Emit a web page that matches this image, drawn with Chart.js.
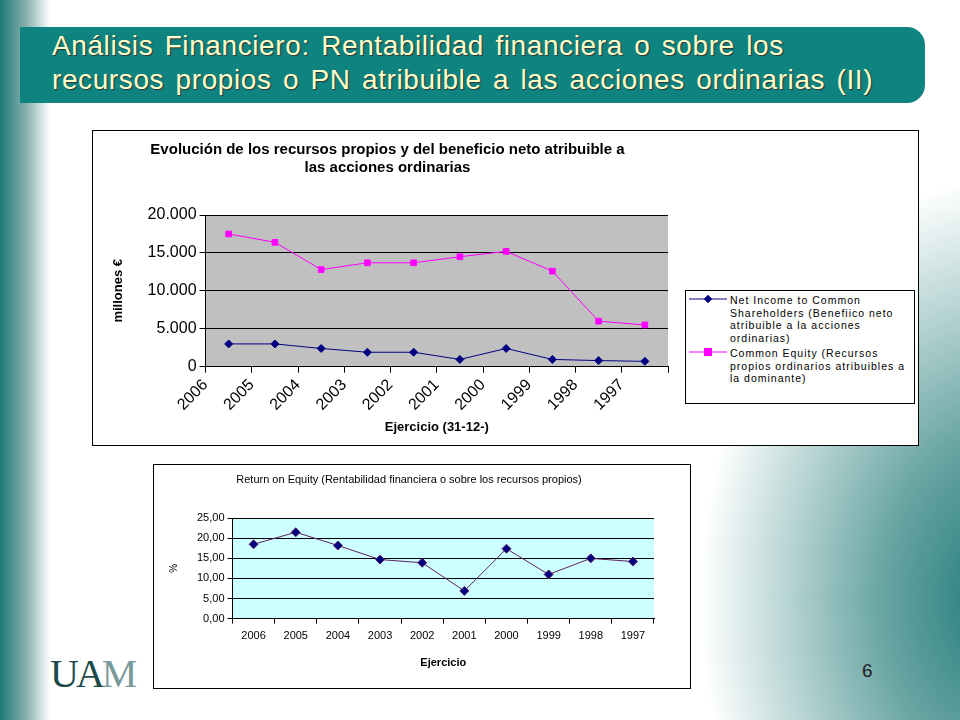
<!DOCTYPE html>
<html><head><meta charset="utf-8">
<script src="https://cdn.jsdelivr.net/npm/chart.js@4"></script>
<style>
body{margin:0;width:960px;height:720px;position:relative;overflow:hidden;font-family:"Liberation Sans",Arial,sans-serif;
background:linear-gradient(90deg,#1f7a78 0px,#8fb5b3 28px,#ffffff 50px,#ffffff 100%);}
#br{position:absolute;left:0;top:0;width:960px;height:720px;
background:radial-gradient(ellipse 300px 420px at 1000px 600px,#1f7a78 0%,#6aa6a4 40%,rgba(255,255,255,0) 100%);}
#bar{position:absolute;left:20px;top:27px;width:905px;height:76px;background:#0e8380;border-radius:0 18px 18px 0;}
#title{position:absolute;left:52px;top:29px;color:#ffffcc;font-size:28px;line-height:34px;letter-spacing:0.6px;word-spacing:3px;text-shadow:1px 1px 1px #333;}
.box{position:absolute;background:#fff;border:1px solid #000;}
#legend{position:absolute;left:685px;top:290px;width:228px;height:112px;border:1px solid #000;background:#fff;font-size:10.5px;letter-spacing:1px;}
.li{position:relative;padding-left:44px;line-height:12.5px;margin-top:3px}
.li svg{position:absolute;left:3px;top:1px}
#num{position:absolute;left:862px;top:660px;font-size:19px;color:#222}
#logo{position:absolute;left:50px;top:650px;font-size:40px;font-family:"Liberation Serif",serif;color:#1a4a48;letter-spacing:-3px}
</style></head><body>
<div id="br"></div>
<div id="bar"></div>
<div id="title">Análisis Financiero: Rentabilidad financiera o sobre los<br>recursos propios o PN atribuible a las acciones ordinarias (II)</div>
<div class="box" style="left:92px;top:130px;width:825px;height:314px"><canvas id="c1" width="825" height="314"></canvas></div>
<div id="legend"></div>
<div class="box" style="left:153px;top:464px;width:536px;height:223px"><canvas id="c2" width="536" height="223"></canvas></div>
<div id="logo">UA<span style="color:#7a9a98">M</span></div>
<div id="num">6</div>
<script>
const years=["2006","2005","2004","2003","2002","2001","2000","1999","1998","1997"];
const netIncome=[3000,3000,2400,1900,1900,950,2400,950,800,700];
const equity=[17500,16400,12800,13700,13700,14500,15200,12600,6000,5500];
const roe=[18.5,21.5,18.2,14.7,13.9,6.9,17.4,11.0,15.0,14.2];
const seriesNames=["Net Income to Common Shareholders (Benefiico neto atribuible a la acciones ordinarias)","Common Equity (Recursos propios ordinarios atribuibles a la dominante)"];
const seriesColors=["#000080","#ff00ff"];

const lg=document.getElementById('legend');
seriesNames.forEach((n,i)=>{
  const d=document.createElement('div');d.className='li';
  const mk=i===0?'<rect x="16" y="1" width="6" height="6" transform="rotate(45 19 4)" fill="'+seriesColors[i]+'"/>':'<rect x="15" y="0" width="8" height="8" fill="'+seriesColors[i]+'"/>';
  d.innerHTML='<svg width="40" height="9"><line x1="0" y1="4" x2="38" y2="4" stroke="'+seriesColors[i]+'"/>'+mk+'</svg>'+n;
  lg.appendChild(d);
});

const bgPlugin={id:'bg',beforeDraw(c,a,o){const ca=c.chartArea;c.ctx.save();c.ctx.fillStyle=o.color;c.ctx.fillRect(ca.left,ca.top,ca.right-ca.left,ca.bottom-ca.top);c.ctx.restore();}};
const spacing={id:'sp',beforeDraw(c,a,o){c.ctx.letterSpacing=o.px+'px';}};
const F="'Liberation Sans', Arial, sans-serif";

new Chart(document.getElementById('c1'),{type:'line',plugins:[bgPlugin,spacing],
data:{datasets:[
 {label:seriesNames[0],data:netIncome.map((v,i)=>({x:i+0.5,y:v})),borderColor:seriesColors[0],backgroundColor:seriesColors[0],pointStyle:'rectRot',pointRadius:4,borderWidth:1},
 {label:seriesNames[1],data:equity.map((v,i)=>({x:i+0.5,y:v})),borderColor:seriesColors[1],backgroundColor:seriesColors[1],pointStyle:'rect',pointRadius:4,borderWidth:1}]},
options:{responsive:false,animation:false,
 layout:{padding:{left:14,right:250,top:0,bottom:6}},
 plugins:{sp:{px:0},bg:{color:'#c0c0c0'},legend:{display:false},tooltip:{enabled:false},
  title:{display:true,text:["Evolución de los recursos propios y del beneficio neto atribuible a","las acciones ordinarias"],color:'#000',font:{family:F,size:15,weight:'bold'},padding:{top:10,bottom:38},lineHeight:1.3}},
 scales:{
  x:{type:'linear',min:0,max:10,ticks:{stepSize:1,autoSkip:false,minRotation:45,maxRotation:45,color:'#000',font:{family:F,size:16},callback:v=>years[v]??''},
     grid:{drawOnChartArea:false,color:'#000',tickLength:6},border:{color:'#000'},
     title:{display:true,text:'Ejercicio (31-12-)',color:'#000',font:{family:F,size:13,weight:'bold'},padding:{top:2}}},
  y:{min:0,max:20000,ticks:{stepSize:5000,color:'#000',font:{family:F,size:16},callback:v=>v.toLocaleString('de-DE')},
     grid:{color:'#000',tickLength:6},border:{color:'#000'},
     title:{display:true,text:'millones €',color:'#000',font:{family:F,size:13,weight:'bold'},padding:{bottom:18}}}}}});

new Chart(document.getElementById('c2'),{type:'line',plugins:[bgPlugin],
data:{labels:years,datasets:[{label:'ROE',data:roe,borderColor:'#602060',backgroundColor:'#000080',pointStyle:'rectRot',pointRadius:4.5,borderWidth:1}]},
options:{responsive:false,animation:false,
 layout:{padding:{left:10,right:36,top:0,bottom:14}},
 plugins:{bg:{color:'#ccffff'},legend:{display:false},tooltip:{enabled:false},
  title:{display:true,text:'Return on Equity (Rentabilidad financiera o sobre los recursos propios)',color:'#000',font:{family:F,size:11,weight:'normal'},padding:{top:8,bottom:32}}},
 scales:{
  x:{offset:true,ticks:{color:'#000',font:{family:F,size:11},padding:6},grid:{offset:true,drawOnChartArea:false,color:'#000',tickLength:5},border:{color:'#000'},
     title:{display:true,text:'Ejercicio',color:'#000',font:{family:F,size:11,weight:'bold'},padding:{top:8}}},
  y:{min:0,max:25,ticks:{stepSize:5,color:'#000',font:{family:F,size:11}},grid:{color:'#000',tickLength:5},border:{color:'#000'},
     title:{display:true,text:'%',color:'#000',font:{family:F,size:10},padding:{bottom:14}}}}}});
// y tick labels with comma decimals
Chart.getChart('c2').options.scales.y.ticks.callback=v=>v.toFixed(2).replace('.',',');
Chart.getChart('c2').update();
</script></body></html>
